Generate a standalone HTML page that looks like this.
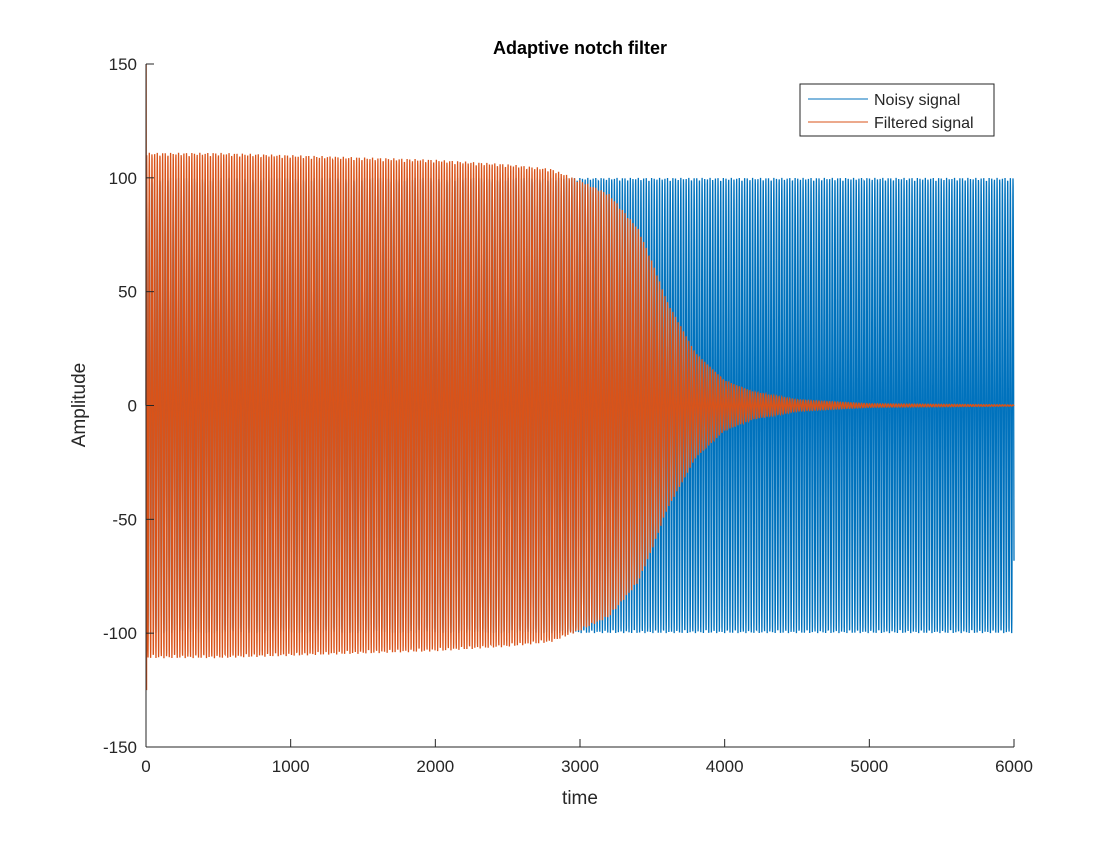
<!DOCTYPE html>
<html><head><meta charset="utf-8"><style>
body{margin:0;background:#fff}
svg text{font-family:"Liberation Sans",sans-serif;fill:#262626}
</style></head><body>
<svg id="c" width="1120" height="840" viewBox="0 0 1120 840">
<rect width="1120" height="840" fill="#fff"/>
<g id="plot"></g>
<g id="axes"></g>
<text x="580" y="54" text-anchor="middle" font-size="18" font-weight="bold" style="fill:#000">Adaptive notch filter</text>
<text x="580" y="804" text-anchor="middle" font-size="19">time</text>
<text transform="translate(85,405) rotate(-90)" text-anchor="middle" font-size="19">Amplitude</text>
<g>
<rect x="800" y="84" width="194" height="52" fill="#fff" stroke="#262626" stroke-width="1"/>
<line x1="808" y1="99" x2="868" y2="99" stroke="#0072BD"/>
<text x="874" y="105" font-size="16">Noisy signal</text>
<line x1="808" y1="122" x2="868" y2="122" stroke="#D95319"/>
<text x="874" y="128" font-size="16">Filtered signal</text>
</g>
</svg>
<script>
const xTicks=[0,1000,2000,3000,4000,5000,6000];
const yTicks=[-150,-100,-50,0,50,100,150];
// envelope data (time, amplitude)
const noisyEnvT=[0,6000];
const noisyEnvA=[100,100];
const filtEnvT=[0,500,1000,1500,2000,2500,2800,3000,3200,3400,3500,3600,3800,4000,4200,4500,5000,6000];
const filtEnvA=[111,111,110,109,108,106,104,99,93,78,63,46,23,11,6,2.5,0.8,0.3];
const period=18.37;
const X0=146,X1=1014,Y0=747,Y1=64;
const sx=t=>X0+(t-0)/(6000)*(X1-X0);
const sy=v=>Y0-(v+150)/300*(Y0-Y1);
const NS='http://www.w3.org/2000/svg';
function interp(T,A,t){for(let i=0;i<T.length-1;i++){if(t<=T[i+1]){const f=(t-T[i])/(T[i+1]-T[i]);return A[i]+f*(A[i+1]-A[i]);}}return A[A.length-1];}
function series(T,A,color,name,spike){
  let d='';
  for(let t=0;t<=6000;t++){
    let v=interp(T,A,t)*Math.sin(2*Math.PI*t/period);
    if(spike&&t==1)v=150; if(spike&&t==4)v=-125;
    d+=(t?'L':'M')+sx(t).toFixed(2)+' '+sy(v).toFixed(2);
  }
  const p=document.createElementNS(NS,'path');
  p.setAttribute('d',d);p.setAttribute('fill','none');p.setAttribute('stroke',color);p.setAttribute('stroke-width','1.3');
  
  
  document.getElementById('plot').appendChild(p);
}
series(noisyEnvT,noisyEnvA,'#0072BD','noisy-signal-line',false);
series(filtEnvT,filtEnvA,'#D95319','filtered-signal-line',true);
const ax=document.getElementById('axes');
function el(tag,attrs){const e=document.createElementNS(NS,tag);for(const k in attrs)e.setAttribute(k,attrs[k]);ax.appendChild(e);return e;}
const xl=el('line',{x1:X0,y1:Y0,x2:X1,y2:Y0,stroke:'#262626'});


const yl=el('line',{x1:X0,y1:Y0,x2:X0,y2:Y1,stroke:'#262626'});


xTicks.forEach(t=>{
  const tk=el('line',{x1:sx(t),y1:Y0,x2:sx(t),y2:Y0-8,stroke:'#262626'});
  
  
  const tx=el('text',{x:sx(t),y:Y0+25,'text-anchor':'middle','font-size':'17'});tx.textContent=t;
  
  
});
yTicks.forEach(v=>{
  const tk=el('line',{x1:X0,y1:sy(v),x2:X0+8,y2:sy(v),stroke:'#262626'});
  
  
  const tx=el('text',{x:X0-9,y:sy(v)+6,'text-anchor':'end','font-size':'17'});tx.textContent=v;
  
  
});
</script>
</body></html>
